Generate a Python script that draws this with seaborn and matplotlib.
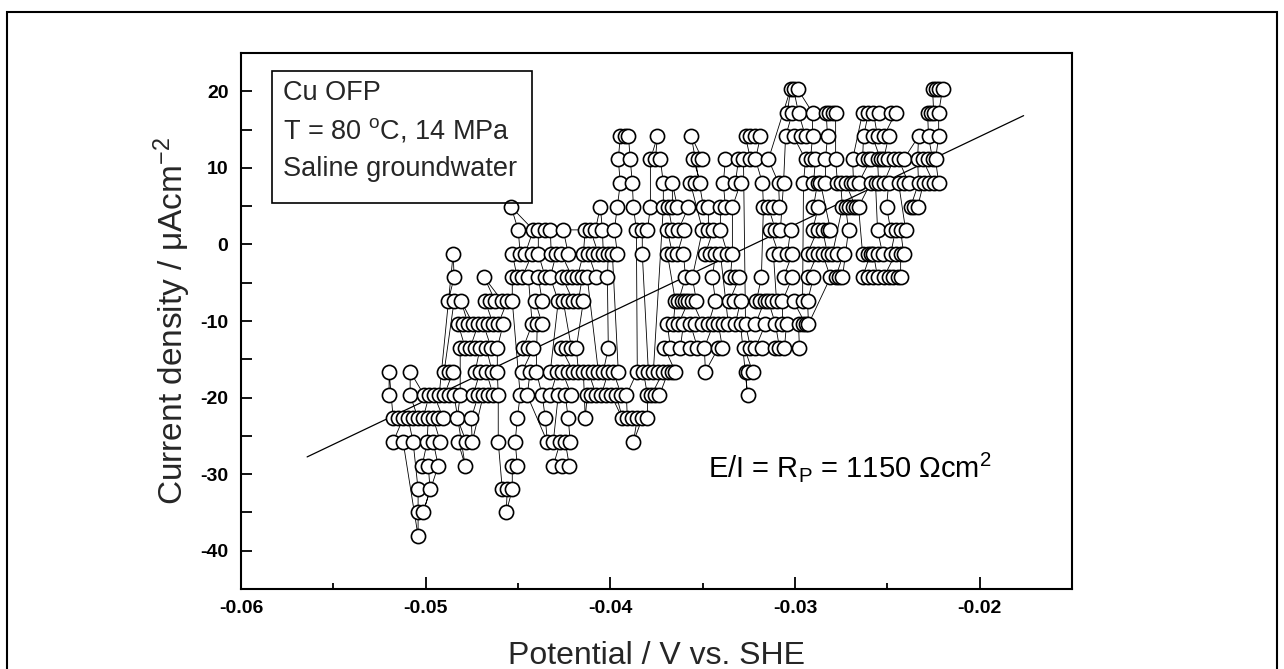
import matplotlib
matplotlib.use("Agg")
import matplotlib.pyplot as plt
import numpy as np
import pandas as pd
import seaborn as sns
from matplotlib.patches import Rectangle
from matplotlib.ticker import MultipleLocator

sns.set_theme(style="white")
plt.rcParams['font.family'] = ['Liberation Sans', 'DejaVu Sans']
plt.rcParams['mathtext.fontset'] = 'custom'
plt.rcParams['mathtext.rm'] = 'Liberation Sans'
plt.rcParams['mathtext.it'] = 'Liberation Sans:italic'
plt.rcParams['mathtext.bf'] = 'Liberation Sans:bold'
plt.rcParams['axes.unicode_minus'] = False

# ---------------- data (potential in mV, current density in uA/cm2) ----------------
I_levels = [-38.1, -35.0, -32.0, -28.9, -25.8, -22.7, -19.7, -16.6, -13.5, -10.4,
            -7.4, -4.3, -1.2, 1.9, 4.9, 8.0, 11.1, 14.1, 17.2, 20.3]

E_L00 = [-50.41]
E_L01 = [-50.41, -50.14, -45.64]
E_L02 = [-50.41, -49.76, -45.85, -45.58, -45.31]
E_L03 = [-50.19, -49.86, -49.32, -47.86, -45.31, -45.04, -43.09, -42.60, -42.22]
E_L04 = [-51.76, -51.22, -50.68, -49.92, -49.59, -49.21, -48.24, -47.80, -47.48, -46.07,
         -45.15, -43.41, -43.09, -42.71, -42.44, -42.17, -38.75]
E_L05 = [-51.76, -51.49, -51.22, -50.95, -50.68, -50.41, -50.14, -49.86, -49.59, -49.32,
         -49.05, -48.29, -47.53, -45.04, -43.52, -42.28, -41.36, -39.35, -39.08, -38.81,
         -38.54, -38.27, -37.99]
E_L06 = [-51.98, -50.84, -50.08, -49.81, -49.54, -49.27, -49.00, -48.73, -48.46, -48.13,
         -47.43, -47.15, -46.88, -46.61, -46.34, -46.07, -44.88, -44.50, -43.69, -43.25,
         -42.82, -42.44, -42.11, -41.25, -41.03, -40.76, -40.49, -40.22, -39.95, -39.67,
         -39.40, -39.13, -37.99, -37.78, -37.56, -37.34, -32.57]
E_L07 = [-51.98, -50.84, -49.00, -48.73, -48.51, -47.32, -47.05, -46.72, -46.40, -46.12,
         -44.77, -44.34, -44.01, -43.25, -42.87, -42.60, -42.28, -42.01, -41.73, -41.46,
         -41.19, -40.92, -40.65, -40.38, -40.11, -39.84, -39.57, -38.54, -38.21, -37.94,
         -37.67, -37.40, -37.13, -36.86, -36.64, -36.48, -34.85, -32.68, -32.52, -32.30]
E_L08 = [-48.13, -47.86, -47.59, -47.32, -47.05, -46.72, -46.45, -46.12, -44.72, -44.44,
         -44.17, -42.66, -42.39, -42.11, -41.84, -40.11, -37.07, -36.75, -36.21, -35.66,
         -35.28, -34.91, -34.15, -33.93, -32.74, -32.41, -32.14, -31.76, -31.11, -30.84,
         -30.57, -29.76]
E_L09 = [-48.24, -47.97, -47.70, -47.43, -47.15, -46.88, -46.61, -46.34, -46.07, -45.80,
         -44.23, -43.96, -43.69, -36.91, -36.59, -36.31, -36.04, -35.66, -35.39, -35.01,
         -34.69, -34.42, -34.15, -33.88, -33.61, -33.23, -32.95, -32.68, -32.14, -31.60,
         -31.06, -30.68, -30.46, -29.81, -29.59, -29.43, -29.27]
E_L10 = [-48.78, -48.46, -48.08, -46.78, -46.50, -46.23, -45.85, -45.58, -45.31, -44.07,
         -43.69, -42.82, -42.55, -42.28, -42.01, -41.73, -41.46, -36.48, -36.31, -36.10,
         -35.93, -35.77, -35.56, -35.34, -34.31, -33.55, -33.28, -32.95, -32.09, -31.87,
         -31.65, -31.44, -31.22, -31.00, -30.68, -30.08, -29.59, -29.32]
E_L11 = [-48.46, -46.83, -45.31, -45.04, -44.77, -44.44, -43.90, -43.52, -43.25, -42.60,
         -42.33, -42.06, -41.79, -41.52, -41.25, -40.76, -40.16, -35.93, -35.56, -34.47,
         -33.50, -33.23, -33.01, -31.82, -30.62, -30.14, -29.32, -29.00, -28.08, -27.80,
         -27.64, -27.43, -26.34, -26.07, -25.80, -25.53, -25.20, -24.93, -24.72, -24.44,
         -24.28]
E_L12 = [-48.51, -45.31, -44.88, -44.61, -44.23, -43.90, -43.20, -42.93, -42.66, -42.28,
         -41.46, -41.19, -40.92, -40.65, -40.38, -40.11, -39.89, -39.62, -38.27, -36.91,
         -36.64, -36.37, -36.04, -34.85, -34.58, -34.31, -34.04, -33.66, -33.39, -31.17,
         -30.89, -30.41, -30.14, -29.32, -29.05, -28.78, -28.51, -28.24, -27.97, -27.70,
         -27.37, -26.34, -26.07, -25.91, -25.75, -25.53, -25.26, -24.82, -24.55, -24.28,
         -24.12]
E_L13 = [-44.99, -44.17, -43.90, -43.52, -43.25, -42.55, -41.36, -41.08, -40.81, -40.43,
         -39.78, -38.59, -38.27, -37.99, -36.91, -36.64, -36.31, -35.99, -35.01, -34.69,
         -34.42, -34.04, -31.33, -31.06, -30.79, -30.24, -29.05, -28.78, -28.51, -28.24,
         -28.08, -27.10, -25.53, -24.82, -24.55, -24.28, -24.01]
E_L14 = [-45.37, -40.54, -39.62, -38.75, -37.83, -37.13, -36.86, -36.64, -36.37, -35.77,
         -34.96, -34.69, -34.04, -33.77, -33.39, -31.71, -31.44, -31.17, -30.84, -29.00,
         -28.73, -27.43, -27.26, -27.10, -26.88, -26.72, -26.56, -25.04, -23.74, -23.58,
         -23.36]
E_L15 = [-39.46, -38.81, -37.13, -36.64, -35.66, -35.39, -35.12, -33.88, -33.23, -32.95,
         -31.76, -30.89, -30.62, -29.54, -29.00, -28.78, -28.62, -28.35, -27.70, -27.53,
         -27.26, -26.99, -26.83, -26.56, -25.91, -25.64, -25.47, -25.20, -24.93, -24.39,
         -24.12, -23.85, -23.31, -23.04, -22.77, -22.49, -22.22]
E_L16 = [-39.57, -38.92, -37.83, -37.56, -37.29, -35.50, -35.23, -35.01, -33.77, -33.06,
         -32.79, -32.41, -32.14, -31.44, -29.43, -29.16, -28.89, -28.35, -27.80, -26.88,
         -26.34, -26.07, -25.91, -25.53, -25.37, -25.20, -24.99, -24.66, -24.39, -24.12,
         -23.36, -23.09, -22.82, -22.55, -22.39]
E_L17 = [-39.46, -39.19, -39.02, -37.45, -35.61, -32.68, -32.41, -32.14, -31.87, -30.51,
         -30.08, -29.70, -29.43, -29.05, -28.24, -26.29, -25.80, -25.53, -25.20, -24.93,
         -23.31, -22.77, -22.22]
E_L18 = [-30.41, -30.14, -29.81, -29.05, -28.31, -28.15, -27.93, -27.80, -26.34, -26.02,
         -25.75, -25.47, -24.82, -24.55, -22.82, -22.66, -22.49, -22.22]
E_L19 = [-30.24, -30.08, -29.86, -22.55, -22.39, -22.22, -22.01]

E_by_level = [E_L00, E_L01, E_L02, E_L03, E_L04, E_L05, E_L06, E_L07, E_L08, E_L09,
              E_L10, E_L11, E_L12, E_L13, E_L14, E_L15, E_L16, E_L17, E_L18, E_L19]

# linear fit line (E/I = Rp)
fit_E_mV = [-56.42, -17.62]
fit_I = [-27.75, 16.82]

# ---------------- build table ----------------
rows = []
for lvl, elist in zip(I_levels, E_by_level):
    for e in elist:
        rows.append((e, lvl))
df = pd.DataFrame(rows, columns=["E_mV", "I"])
# drawing order of the connecting line: narrow potential windows,
# alternating up/down through the current levels inside each window
df["win"] = np.floor(df["E_mV"] / 0.7).astype(int)
parts = []
for k, (w, g) in enumerate(sorted(df.groupby("win"), key=lambda t: t[0])):
    asc = (k % 2 == 0)
    parts.append(g.sort_values(["I", "E_mV"], ascending=[asc, True], kind="mergesort"))
df = pd.concat(parts, ignore_index=True)
df["E"] = df["E_mV"] / 1000.0
fit_df = pd.DataFrame({"E": [v / 1000.0 for v in fit_E_mV], "I": fit_I})

# ---------------- figure ----------------
W, H = 1284, 669
fig = plt.figure(figsize=(W / 100, H / 100), dpi=100)
ax = fig.add_axes([241 / W, 1 - 589 / H, (1072 - 241) / W, (589 - 53) / H])

sns.lineplot(data=fit_df, x="E", y="I", ax=ax, color="black", lw=0.9, sort=False,
             estimator=None, zorder=1)
sns.lineplot(data=df, x="E", y="I", ax=ax, sort=False, estimator=None,
             color="black", lw=0.6, marker="o", markersize=10.2,
             markerfacecolor="white", markeredgecolor="black", markeredgewidth=1.2,
             zorder=2)

ax.set_xlim(-0.06, -0.015)
ax.set_ylim(-45, 25)
ax.xaxis.set_minor_locator(MultipleLocator(0.005))
ax.yaxis.set_minor_locator(MultipleLocator(5))
ax.set_xticks([-0.06, -0.05, -0.04, -0.03, -0.02])
ax.set_xticklabels(["-0.06", "-0.05", "-0.04", "-0.03", "-0.02"])
ax.set_yticks([-40, -30, -20, -10, 0, 10, 20])
ax.set_yticklabels(["-40", "-30", "-20", "-10", "0", "10", "20"])

ax.tick_params(axis="both", which="both", direction="in", bottom=True, left=True,
               top=False, right=False, colors="black", width=1.3)
ax.tick_params(axis="x", which="major", length=9, pad=8, labelsize=14)
ax.tick_params(axis="x", which="minor", length=4.5)
ax.tick_params(axis="y", which="major", length=8, pad=9, labelsize=14)
ax.tick_params(axis="y", which="minor", length=8)
for lab in ax.get_xticklabels() + ax.get_yticklabels():
    lab.set_fontweight("bold")
for sp in ax.spines.values():
    sp.set_visible(True)
    sp.set_color("black")
    sp.set_linewidth(1.5)
ax.grid(False)

ax.set_xlabel("Potential / V vs. SHE", fontsize=23, labelpad=17)
ax.set_ylabel("Current density / \u03bcAcm$^{-2}$", fontsize=24, labelpad=5)

# annotation
ax.text(-0.03469, -29.1, r"E/I = R$_\mathrm{P}$ = 1150 $\Omega$cm$^2$", fontsize=21,
        ha="left", va="center", color="black")

# info box
fig.patches.append(Rectangle((272 / W, 1 - 203 / H), (532 - 272) / W, (203 - 71) / H,
                             transform=fig.transFigure, fill=False, edgecolor="black",
                             lw=1.2, zorder=5))
fig.text(283 / W, 1 - 93 / H, "Cu OFP", fontsize=19.5, ha="left", va="center")
fig.text(283 / W, 1 - 131 / H, r"T = 80 $^\mathrm{o}$C, 14 MPa", fontsize=19.5, ha="left", va="center")
fig.text(283 / W, 1 - 169 / H, "Saline groundwater", fontsize=19.5, ha="left", va="center")

# outer frame
fig.patches.append(Rectangle((7 / W, -0.1), (1277 - 7) / W, 1.1 - 12 / H,
                             transform=fig.transFigure, fill=False, edgecolor="black",
                             lw=1.5, zorder=0))

fig.savefig("out.png", dpi=100)
